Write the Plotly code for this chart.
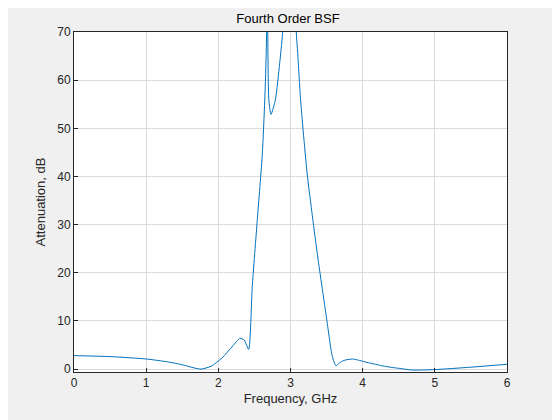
import plotly.graph_objects as go

freq = [0.0, 0.5, 1.0, 1.3, 1.5, 1.65, 1.76, 1.9, 2.05, 2.2, 2.30, 2.36, 2.42, 2.47, 2.54, 2.61, 2.65, 2.67, 2.675,
        2.685, 2.70, 2.73, 2.79, 2.85, 2.89, 2.95, 3.0, 3.06, 3.08, 3.10, 3.14, 3.23, 3.37, 3.49, 3.58, 3.63, 3.68,
        3.74, 3.86, 4.06, 4.3, 4.53, 4.7, 5.0, 5.5, 6.0]
atten = [2.8, 2.6, 2.1, 1.5, 0.9, 0.3, 0.0, 0.6, 2.3, 4.8, 6.4, 6.0, 4.1, 17.1, 31.0, 44.8, 58.6, 70.5, 90.0,
         70.0, 55.9, 52.9, 55.9, 63.5, 69.7, 85.0, 95.0, 80.0, 70.0, 65.6, 55.9, 40.7, 24.1, 11.6, 2.6, 0.7, 1.3,
         1.8, 2.1, 1.4, 0.6, 0.1, -0.2, -0.1, 0.4, 1.0]

fig = go.Figure(go.Scatter(x=freq, y=atten, mode="lines", line=dict(color="#0072BD", width=1, shape="spline", smoothing=0.6)))
ax = dict(showline=True, linecolor="#262626", linewidth=1, mirror=True, ticks="inside", ticklen=4,
          tickcolor="#262626", showgrid=True, gridcolor="#dcdcdc", zeroline=False,
          tickfont=dict(size=12, color="#262626"))
fig.update_layout(
    width=560, height=420, paper_bgcolor="#f0f0f0", plot_bgcolor="white",
    margin=dict(l=66, r=61, t=24, b=56), showlegend=False,
    font=dict(family="Liberation Sans, Arial", color="#262626"),
    title=dict(text="Fourth Order BSF", x=0.5, xanchor="center", y=0.985, yanchor="top", font=dict(size=13, color="#000")),
    xaxis=dict(ax, range=[0, 6], dtick=1, title=dict(text="Frequency, GHz", font=dict(size=13), standoff=4)),
    yaxis=dict(ax, range=[-0.6, 70], tickvals=[0, 10, 20, 30, 40, 50, 60, 70], title=dict(text="Attenuation, dB", font=dict(size=13), standoff=8)),
)
fig.write_html("out.html")
